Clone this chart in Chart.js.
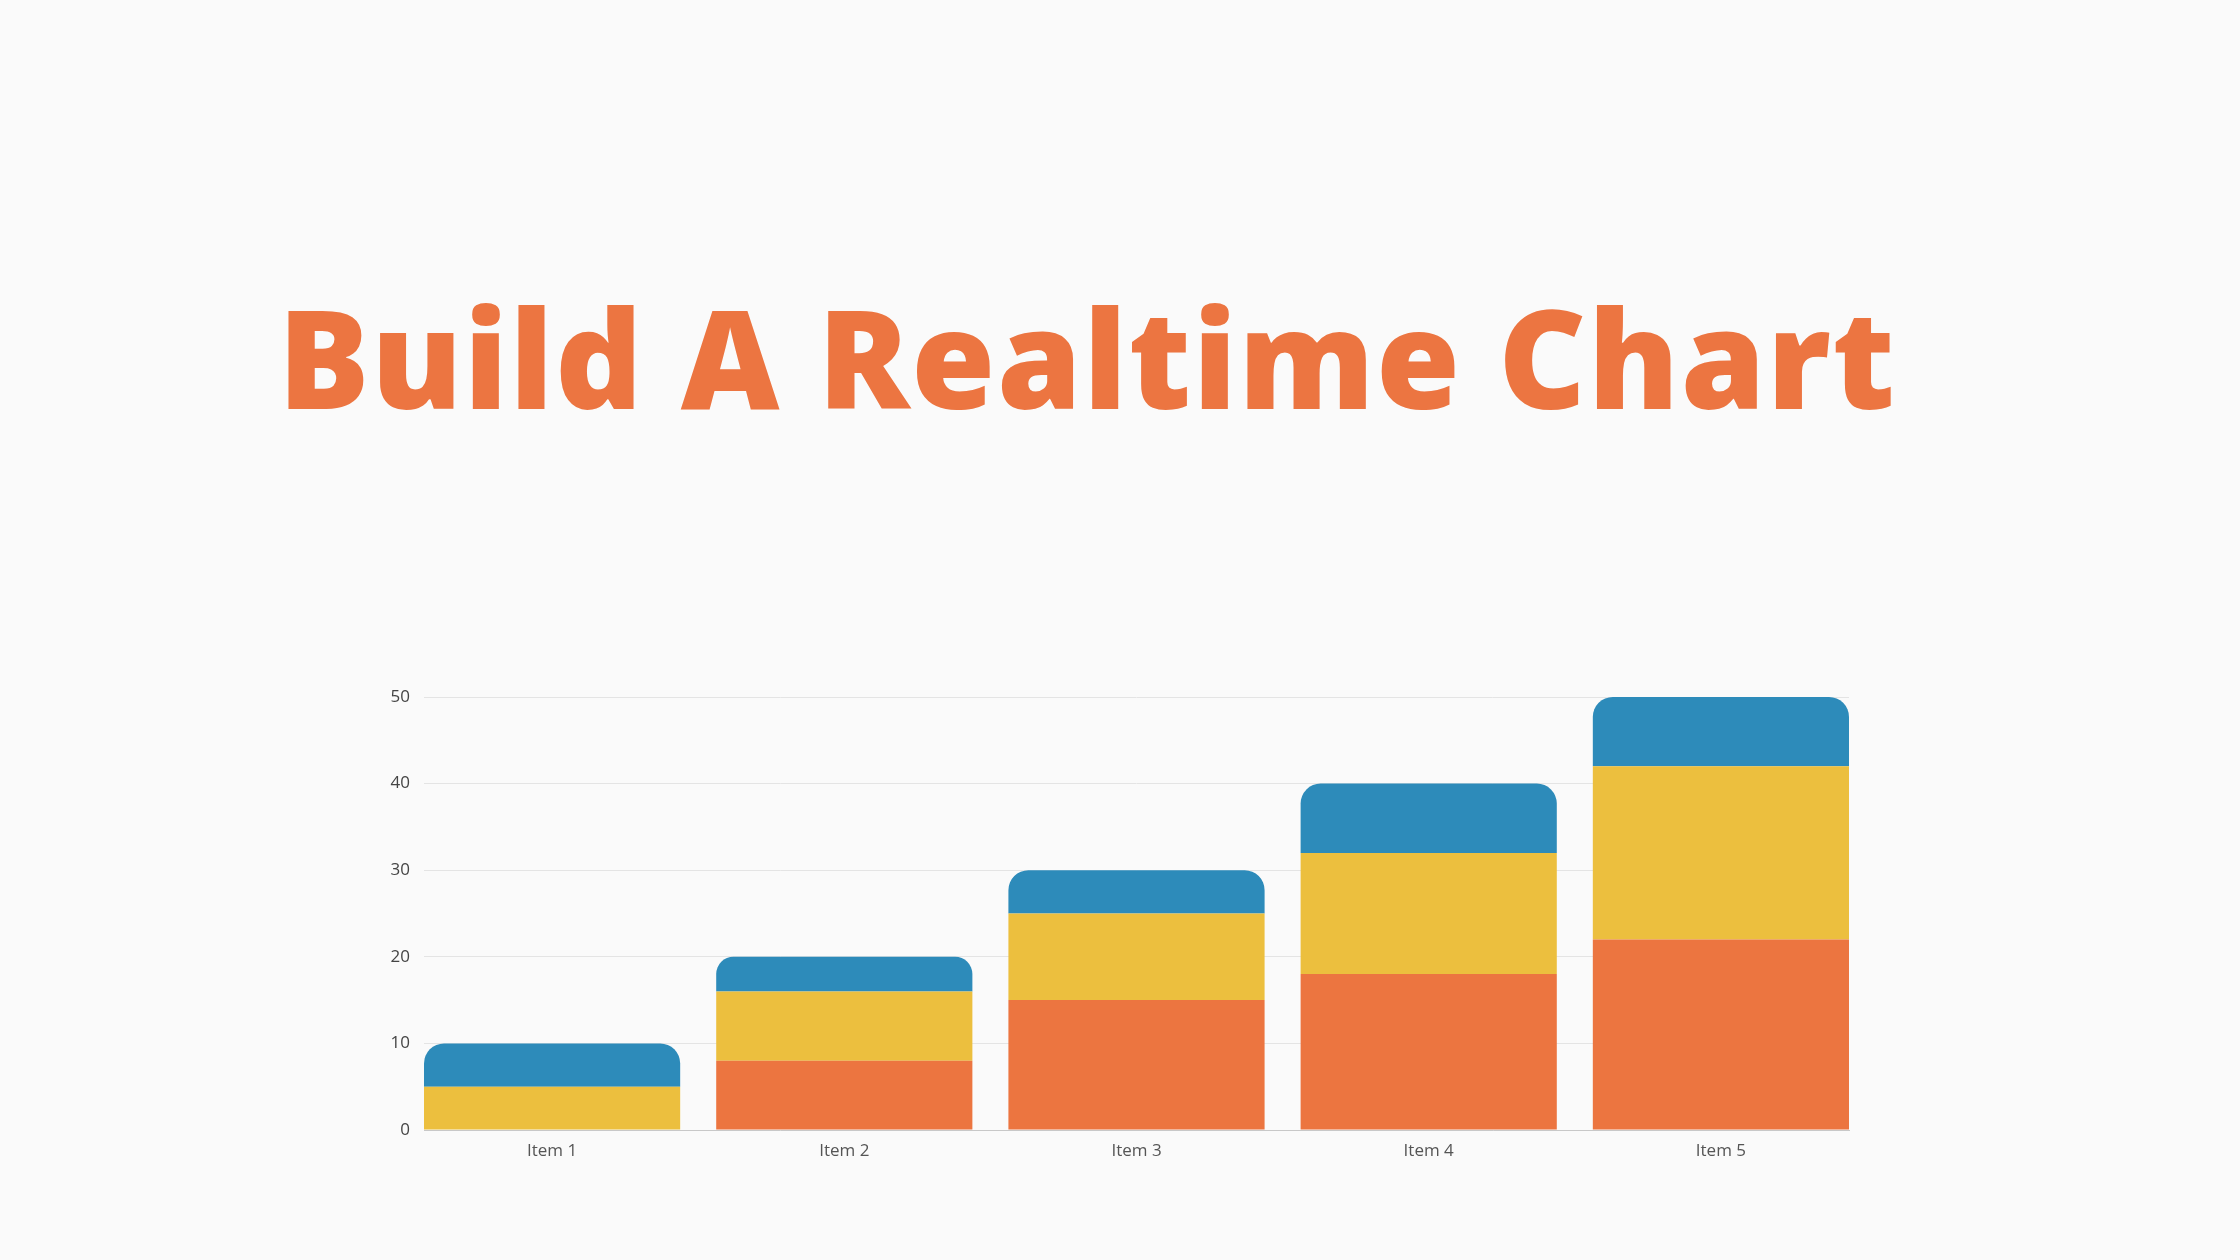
<!DOCTYPE html>
<html>
<head>
<meta charset="utf-8">
<script src="https://cdn.jsdelivr.net/npm/chart.js@4.4.0/dist/chart.umd.min.js"></script>
<style>
  html, body { margin: 0; padding: 0; background: #fafafa; width: 2240px; height: 1260px; overflow: hidden; }
  h1 { position: absolute; left: 278px; top: 289px; margin: 0; font-family: "Open Sans", sans-serif; font-weight: 800; font-size: 136px; line-height: 1; color: #ec7541; white-space: nowrap; letter-spacing: 1.5px; }
  #wrap { position: absolute; left: 0; top: 0; width: 2240px; height: 1260px; }
</style>
</head>
<body>
<h1>Build A Realtime Chart</h1>
<div id="wrap"><canvas id="c"></canvas></div>
<script>
const categories = ["Item 1", "Item 2", "Item 3", "Item 4", "Item 5"];
const seriesOrange = [0, 8, 15, 18, 22];
const seriesYellow = [5, 8, 10, 14, 20];
const seriesBlue = [5, 4, 5, 8, 8];
const yTicks = [0, 10, 20, 30, 40, 50];

const toPts = arr => arr.map((v, i) => ({ x: i, y: v }));

const chart = new Chart(document.getElementById('c'), {
  type: 'bar',
  data: {
    datasets: [
      { label: 'A', data: toPts(seriesOrange), backgroundColor: '#ec7540', borderWidth: 0 },
      { label: 'B', data: toPts(seriesYellow), backgroundColor: '#ecbf3e', borderWidth: 0 },
      { label: 'C', data: toPts(seriesBlue), backgroundColor: '#2d8bba', borderWidth: 0,
        borderRadius: { topLeft: 20, topRight: 20, bottomLeft: 0, bottomRight: 0 }, borderSkipped: false }
    ]
  },
  options: {
    responsive: true,
    maintainAspectRatio: false,
    animation: false,
    barPercentage: 256 / 292,
    categoryPercentage: 1,
    layout: { padding: { left: 364, right: 391, top: 697, bottom: 90 } },
    plugins: { legend: { display: false }, tooltip: { enabled: false }, title: { display: false } },
    scales: {
      x: {
        type: 'linear',
        stacked: true,
        offset: false,
        min: -128 / 292,
        max: 4 + 128 / 292,
        afterBuildTicks: s => { s.ticks = categories.map((c, i) => ({ value: i })); },
        afterFit: s => { s.height = 40; },
        grid: { display: false, drawTicks: false, offset: false },
        border: { display: true, color: '#c8c8c8', width: 1 },
        ticks: {
          callback: v => categories[v],
          font: { family: 'Open Sans', size: 17 },
          color: '#555',
          padding: 11,
          maxRotation: 0,
          autoSkip: false
        }
      },
      y: {
        stacked: true,
        min: 0,
        max: 50,
        afterBuildTicks: s => { s.ticks = yTicks.map(v => ({ value: v })); },
        afterFit: s => { s.width = 60; },
        grid: { color: '#e4e4e4', lineWidth: 1, drawTicks: false },
        border: { display: false },
        ticks: {
          font: { family: 'Open Sans', size: 17 },
          color: '#444',
          padding: 14
        }
      }
    }
  }
});
</script>
</body>
</html>
